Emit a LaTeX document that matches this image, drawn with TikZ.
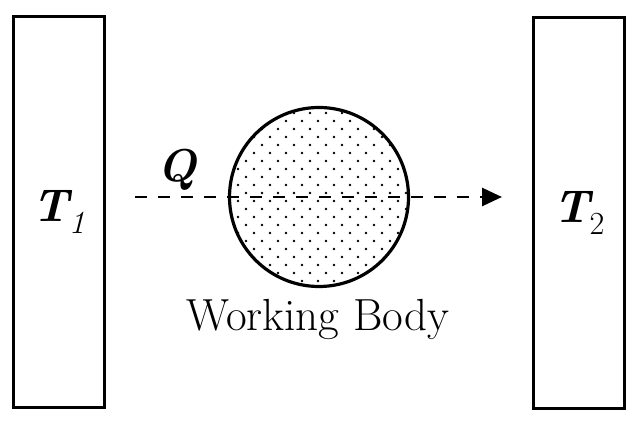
\documentclass[tikz,border=0pt]{standalone}
\usepackage{fontspec}
\usetikzlibrary{arrows.meta}

\begin{document}
\begin{tikzpicture}[x=1pt,y=-1pt, inner sep=0pt, >={Triangle[length=20pt,width=18pt]},
  reservoir/.style={rectangle,draw=black,line width=3.2pt,minimum width=91pt,minimum height=391pt},
  biglabel/.style={font=\fontsize{46}{52}\selectfont}]
\useasboundingbox (0,0) rectangle (640,422);
\node (hot) at (59,212) [reservoir] {};
\node (cold) at (579,213) [reservoir] {};
\node (body) at (319,197) [circle,minimum size=179pt] {};
% stipple inside the working body
\begin{scope}
\clip (body.center) circle (89.5pt);
\foreach \r in {0,...,24} {
  \foreach \c in {0,...,12} {
    \fill[black] ({222+16*\c+8*mod(\r,2)},{105+8*\r}) circle (1.4pt);
  }
}
\end{scope}
\draw[line width=3.2pt] (body.center) circle (89.5pt);
\node (t1) at (hot.center) [biglabel] {\textbf{\textit{T}}\kern-0.08em\textsubscript{\textit{1}}};
\node (t2) at (cold.center) [biglabel] {\textbf{\textit{T}}\kern-0.08em\textsubscript{2}};
\node (q) at (177,182) [anchor=base,biglabel] {\textbf{\textit{Q}}};
\node (wb) at (318,330) [anchor=base,font=\fontsize{45}{52}\selectfont] {Working Body};
\coordinate (qstart) at (135,197);
\coordinate (qend) at (502,197);
\draw[->, line width=2.8pt, dash pattern=on 12pt off 11pt] (qstart) -- (qend);
\end{tikzpicture}
\end{document}
